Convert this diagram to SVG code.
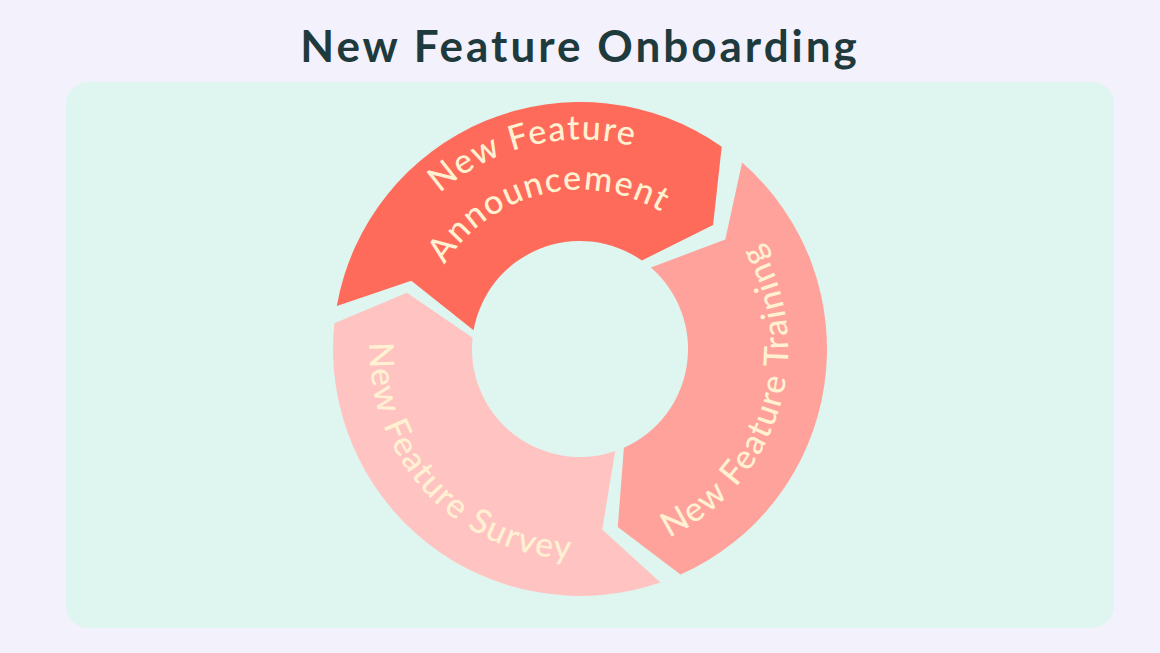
<svg xmlns="http://www.w3.org/2000/svg" width="1160" height="653" viewBox="0 0 1160 653">
<style>
.lbl{font-family:Lato,"Open Sans",sans-serif;font-size:34px;font-weight:500;fill:#FFF1D2;letter-spacing:1.5px}
</style>
<defs>
<path id="pA1" d="M374.6,392.7 A210,210 0 0 1 782.8,294.6" fill="none"/>
<path id="pA2" d="M423.5,382.3 A160,160 0 0 1 734.5,307.6" fill="none"/>
<path id="pT" d="M524.3,550.4 A209,209 0 0 0 646.3,150.8" fill="none"/>
<path id="pS" d="M433.5,199.9 A209,209 0 0 0 718.5,505.6" fill="none"/>
</defs>
<rect width="1160" height="653" fill="#F3F1FC"/>
<rect x="66" y="82" width="1048" height="546" rx="22" fill="#DFF5EF"/>
<text x="580" y="62" text-anchor="middle" font-family="Lato,'Open Sans',sans-serif" font-size="44" font-weight="700" fill="#1F3A3D" letter-spacing="3">New Feature Onboarding</text>
<g id="announcement">
<path d="M336.8,306.1 A247,247 0 0 1 721.7,146.7 L713.1,224.9 L641.9,260.5 A108,108 0 0 0 473.6,330.2 L411.3,280.8 Z" fill="#FF6B5B"/>
<text class="lbl"><textPath href="#pA1" startOffset="50%" text-anchor="middle">New Feature</textPath></text>
<text class="lbl"><textPath href="#pA2" startOffset="50%" text-anchor="middle">Announcement</textPath></text>
</g>
<g id="training">
<path d="M742.1,162.6 A247,247 0 0 1 680.5,574.6 L617.8,527.0 L623.9,447.7 A108,108 0 0 0 650.9,267.5 L725.3,239.5 Z" fill="#FFA29B"/>
<text class="lbl"><textPath href="#pT" startOffset="50%" text-anchor="middle">New Feature Training</textPath></text>
</g>
<g id="survey">
<path d="M660.4,582.5 A247,247 0 0 1 334.4,323.2 L406.9,292.8 L472.6,337.7 A108,108 0 0 0 615.2,451.1 L602.2,529.6 Z" fill="#FFC4C2"/>
<text class="lbl"><textPath href="#pS" startOffset="50%" text-anchor="middle">New Feature Survey</textPath></text>
</g>
<g id="connectors"/>
</svg>
